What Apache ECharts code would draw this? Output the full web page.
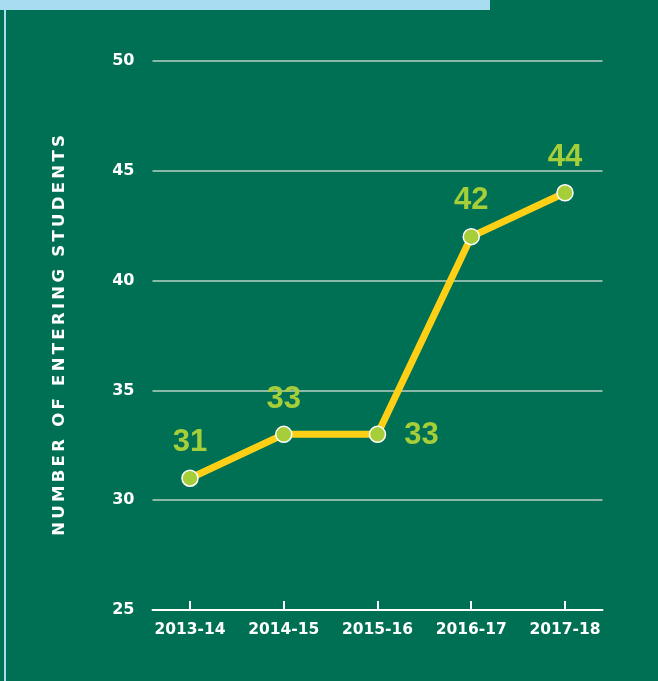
<!DOCTYPE html>
<html>
<head>
<meta charset="utf-8">
<script src="https://cdn.jsdelivr.net/npm/echarts@6/dist/echarts.min.js"></script>
<style>
html,body{margin:0;padding:0;background:#007055;}
#c{width:658px;height:681px;}
</style>
</head>
<body>
<div id="c"></div>
<script>
const categories = ['2013-14', '2014-15', '2015-16', '2016-17', '2017-18'];
const students = [31, 33, 33, 42, 44];
const yTicks = [25, 30, 35, 40, 45, 50];
const yAxisTitle = 'NUMBER OF ENTERING STUDENTS';

const AXIS_FONT = 'DejaVu Sans';
const LABEL_FONT = 'Liberation Sans';
const labelGreen = '#a6ce39';
const labelOffsets = [[0, -36], [0, -35], [44, 1], [0, -36], [0, -35]];
// letter-spaced title (thin spaces between letters)
const spacedTitle = Array.from(yAxisTitle).join('\u2009');

const dataLabel = { color: labelGreen, fontFamily: LABEL_FONT, fontWeight: 'bold', fontSize: 31 };

const chart = echarts.init(document.getElementById('c'));
chart.setOption({
  backgroundColor: '#007055',
  animation: false,
  graphic: [
    { type: 'rect', shape: { x: 0, y: 0, width: 490, height: 10 }, style: { fill: '#a8dcf0' }, silent: true },
    { type: 'rect', shape: { x: 4, y: 10, width: 2, height: 671 }, style: { fill: '#a8dcf0' }, silent: true }
  ],
  grid: { left: 152.5, right: 55.5, top: 61, bottom: 71, containLabel: false },
  xAxis: {
    type: 'value',
    min: -0.4,
    max: categories.length - 1 + 0.4,
    splitLine: { show: false },
    axisLine: { show: true, lineStyle: { color: '#ffffff', width: 2 } },
    axisTick: { show: true, inside: true, length: 9, lineStyle: { color: '#ffffff', width: 2 }, customValues: categories.map((c, i) => i) },
    axisLabel: {
      customValues: categories.map((c, i) => i),
      formatter: v => categories[Math.round(v)] || '',
      color: '#ffffff', fontFamily: AXIS_FONT, fontWeight: 'bold', fontSize: 15.5, margin: 12
    }
  },
  yAxis: {
    type: 'value',
    min: yTicks[0],
    max: yTicks[yTicks.length - 1],
    interval: 5,
    name: spacedTitle,
    nameLocation: 'middle',
    nameRotate: 90,
    nameGap: 84,
    nameTextStyle: { color: '#ffffff', fontFamily: AXIS_FONT, fontWeight: 'bold', fontSize: 16.5 },
    axisLine: { show: false },
    axisTick: { show: false },
    axisLabel: { color: '#ffffff', fontFamily: AXIS_FONT, fontWeight: 'bold', fontSize: 16, margin: 18 },
    splitLine: { show: true, lineStyle: { color: '#8cb8aa', width: 2 } }
  },
  series: [{
    type: 'line',
    data: students.map((v, i) => ({
      value: [i, v],
      label: Object.assign({ show: true, position: 'inside', offset: labelOffsets[i] }, dataLabel)
    })),
    lineStyle: { color: '#fdd016', width: 7 },
    symbol: 'circle',
    symbolSize: 16,
    itemStyle: { color: '#a6ce39', borderColor: '#ffffff', borderWidth: 1.5 },
    label: Object.assign({ show: true, formatter: p => p.value[1] }, dataLabel),
    z: 3
  }]
});
</script>
</body>
</html>
